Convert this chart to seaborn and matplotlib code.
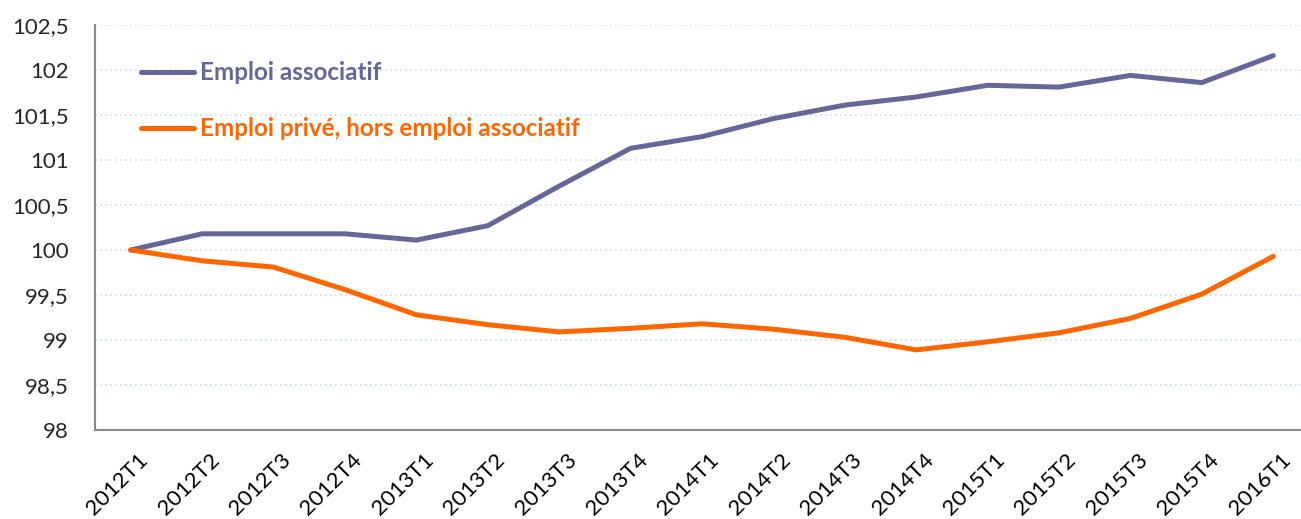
#Import libraries
import pandas as pd
import matplotlib
matplotlib.use("Agg")
import matplotlib.pyplot as plt
import matplotlib.transforms as mtransforms
import seaborn as sns
from matplotlib.ticker import FixedLocator, FuncFormatter

#Data (base 100 = 2012T1)
quarters = ["2012T1", "2012T2", "2012T3", "2012T4",
            "2013T1", "2013T2", "2013T3", "2013T4",
            "2014T1", "2014T2", "2014T3", "2014T4",
            "2015T1", "2015T2", "2015T3", "2015T4", "2016T1"]
emploi_associatif = [100.00, 100.18, 100.18, 100.18,
                     100.11, 100.27, 100.71, 101.13,
                     101.26, 101.46, 101.61, 101.70,
                     101.83, 101.81, 101.94, 101.86, 102.16]
emploi_prive = [100.00, 99.88, 99.81, 99.56,
                99.28, 99.17, 99.09, 99.13,
                99.18, 99.12, 99.03, 98.89,
                98.98, 99.08, 99.24, 99.51, 99.93]
series_names = ["Emploi associatif", "Emploi privé, hors emploi associatif"]
series_colors = ["#666699", "#FF6600"]

#Long-form dataframe for seaborn
df = pd.DataFrame({
    "Trimestre": quarters * 2,
    "pos": list(range(len(quarters))) * 2,
    "Indice": emploi_associatif + emploi_prive,
    "Série": [series_names[0]] * len(quarters) + [series_names[1]] * len(quarters),
})

sns.set_style("white")
plt.rcParams["font.family"] = ["Lato", "DejaVu Sans"]

fig = plt.figure(figsize=(13.01, 5.19), dpi=100)
ax = fig.add_axes([95 / 1301, 89 / 519, 1214 / 1301, 405 / 519])

sns.lineplot(
    data=df,
    x="pos",
    y="Indice",
    hue="Série",
    palette=series_colors,
    linewidth=3.6,
    sort=False,
    ax=ax,
)

#Axes limits and ticks
ax.set_xlim(-0.5, len(quarters) - 0.5)
ax.set_ylim(98, 102.5)
ax.set_yticks([98 + 0.5 * i for i in range(10)])
ax.yaxis.set_major_formatter(FuncFormatter(lambda v, p: f"{v:g}".replace(".", ",")))
ax.set_xticks(range(len(quarters)))
ax.set_xticklabels(quarters, rotation=45, ha="right", rotation_mode="anchor")
ax.xaxis.set_minor_locator(FixedLocator([i - 0.5 for i in range(len(quarters) + 1)]))
ax.tick_params(axis="x", which="major", length=0, pad=14, labelsize=16, colors="black")
ax.tick_params(axis="x", which="minor", length=7, width=1.5, color="#888888", direction="out")
ax.tick_params(axis="y", which="major", length=7, width=1.5, color="#888888",
               direction="out", labelsize=16, pad=12)
ax.set_xlabel("")
ax.set_ylabel("")

#Nudge rotated x labels to the right
shift = mtransforms.ScaledTranslation(0.07, 0, fig.dpi_scale_trans)
for lab in ax.get_xticklabels():
    lab.set_transform(lab.get_transform() + shift)

#Dotted light gridlines
ax.yaxis.grid(True, linestyle=(0, (1, 2)), color="#CFDAEC", linewidth=1.2)
ax.set_axisbelow(True)

for side in ["top", "right"]:
    ax.spines[side].set_visible(False)
for side in ["left", "bottom"]:
    ax.spines[side].set_color("#888888")
    ax.spines[side].set_linewidth(1.5)

#Legend inside the plot with coloured bold labels
leg = ax.legend(
    loc="upper left",
    bbox_to_anchor=(0.0375, 0.91),
    frameon=False,
    handlelength=2.2,
    handletextpad=0.25,
    labelspacing=1.35,
    borderpad=0,
    borderaxespad=0,
    prop={"weight": "bold", "size": 17.5},
    labelcolor="linecolor",
)
for line in leg.get_lines():
    line.set_linewidth(3.6)
    line.set_solid_capstyle("round")

plt.savefig("out.png", dpi=100)
print("File Saved")
